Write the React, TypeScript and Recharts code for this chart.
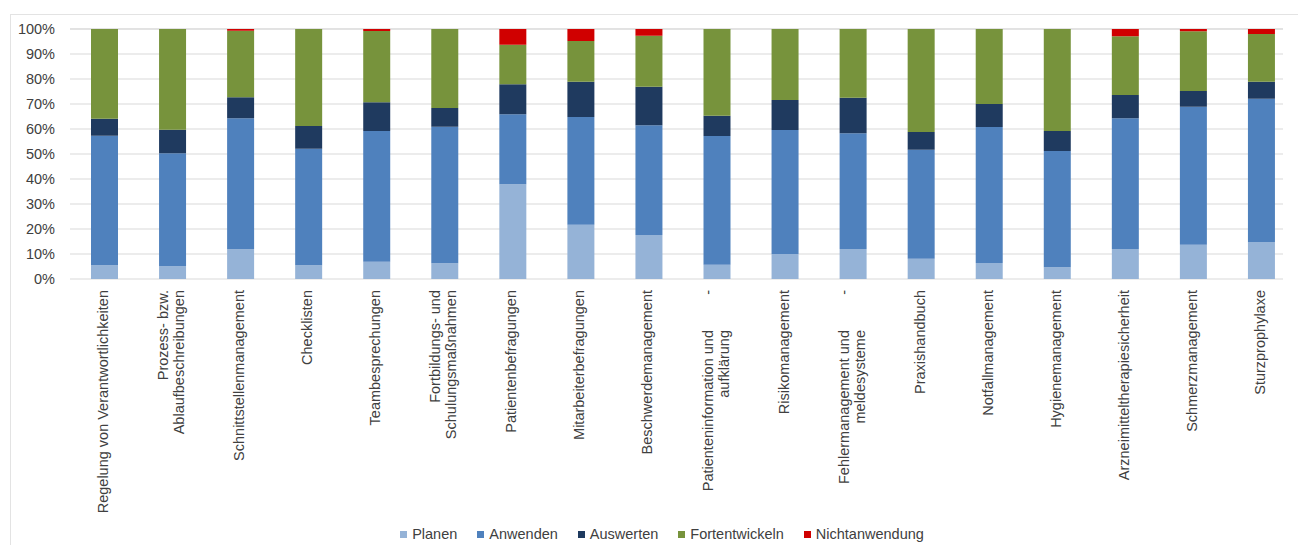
import { BarChart, Bar, XAxis, YAxis, CartesianGrid, Legend } from 'recharts';

const CATEGORIES = [
  'Regelung von Verantwortlichkeiten',
  'Prozess- bzw.\nAblaufbeschreibungen',
  'Schnittstellenmanagement',
  'Checklisten',
  'Teambesprechungen',
  'Fortbildungs- und\nSchulungsmaßnahmen',
  'Patientenbefragungen',
  'Mitarbeiterbefragungen',
  'Beschwerdemanagement',
  'Patienteninformation und -\naufklärung',
  'Risikomanagement',
  'Fehlermanagement und -\nmeldesysteme',
  'Praxishandbuch',
  'Notfallmanagement',
  'Hygienemanagement',
  'Arzneimitteltherapiesicherheit',
  'Schmerzmanagement',
  'Sturzprophylaxe',
];

const PLANEN = [5.5, 5.1, 11.9, 5.5, 6.9, 6.3, 37.9, 21.7, 17.6, 5.7, 10, 12, 8.1, 6.4, 4.7, 12, 13.7, 14.8];
const ANWENDEN = [51.8, 45.2, 52.4, 46.6, 52.3, 54.6, 28, 43.1, 43.9, 51.5, 49.6, 46.3, 43.6, 54.4, 46.5, 52.3, 55.2, 57.3];
const AUSWERTEN = [6.8, 9.4, 8.4, 9.1, 11.5, 7.5, 12, 14.1, 15.4, 8.1, 12, 14.2, 7.1, 9.2, 8, 9.3, 6.3, 6.8];
const FORTENTWICKELN = [35.9, 40.3, 26.6, 38.8, 28.5, 31.6, 15.8, 16.3, 20.4, 34.7, 28.4, 27.5, 41.2, 30, 40.8, 23.5, 23.9, 19.1];
const NICHTANWENDUNG = [0, 0, 0.7, 0, 0.8, 0, 6.3, 4.8, 2.7, 0, 0, 0, 0, 0, 0, 2.9, 0.9, 2];

const Y_TICKS = [0, 10, 20, 30, 40, 50, 60, 70, 80, 90, 100];

const SERIES = [
  { key: 'Planen', color: '#95b3d7', values: PLANEN },
  { key: 'Anwenden', color: '#4f81bd', values: ANWENDEN },
  { key: 'Auswerten', color: '#1f3a5f', values: AUSWERTEN },
  { key: 'Fortentwickeln', color: '#77933c', values: FORTENTWICKELN },
  { key: 'Nichtanwendung', color: '#d00000', values: NICHTANWENDUNG },
];

const FONT = '"Liberation Sans", Arial, sans-serif';
const FONT_SIZE = 14.5;
const TEXT = '#404040';

const data = CATEGORIES.map((name, i) => {
  const row: Record<string, string | number> = { name };
  SERIES.forEach((s) => {
    row[s.key] = s.values[i];
  });
  return row;
});

// rotated category labels, top-aligned just under the plot; a trailing " -" is drawn on its own at the top
function CategoryTick(props: any) {
  const { x, y, payload } = props;
  const raw = String(payload.value).split('\n');
  let dash = false;
  const lines = raw.map((l) => {
    if (l.endsWith(' -')) {
      dash = true;
      return l.slice(0, -2);
    }
    return l;
  });
  const n = lines.length;
  const top = dash ? y + 40 : y;
  const col = (i: number) => x + 4 + (i - (n - 1) / 2) * 16;
  return (
    <g>
      {lines.map((l, i) => (
        <text
          key={i}
          x={col(i)}
          y={top}
          transform={`rotate(-90 ${col(i)} ${top})`}
          textAnchor="end"
          fontSize={FONT_SIZE}
          fontFamily={FONT}
          fill={TEXT}
        >
          {l}
        </text>
      ))}
      {dash && (
        <text
          x={col(0)}
          y={y}
          transform={`rotate(-90 ${col(0)} ${y})`}
          textAnchor="end"
          fontSize={FONT_SIZE}
          fontFamily={FONT}
          fill={TEXT}
        >
          -
        </text>
      )}
    </g>
  );
}

function LegendContent() {
  return (
    <div
      style={{
        display: 'flex',
        justifyContent: 'center',
        alignItems: 'center',
        height: 22,
        paddingLeft: 26,
        fontFamily: FONT,
        fontSize: FONT_SIZE,
        color: TEXT,
      }}
    >
      {SERIES.map((s) => (
        <div key={s.key} style={{ display: 'flex', alignItems: 'center', margin: '0 10px' }}>
          <span style={{ width: 7, height: 7, background: s.color, marginRight: 5, display: 'inline-block' }} />
          <span>{s.key}</span>
        </div>
      ))}
    </div>
  );
}

export default function App() {
  return (
    <div style={{ position: 'absolute', left: 0, top: 0, width: 1298, height: 545, background: '#fff' }}>
      <div
        style={{
          position: 'absolute',
          left: 10,
          top: 14,
          right: 0,
          bottom: 0,
          borderLeft: '1px solid #e3e3e3',
          borderTop: '1px solid #e3e3e3',
        }}
      />
      <BarChart
        width={1298}
        height={545}
        data={data}
        margin={{ top: 29, right: 15, left: 0, bottom: 0 }}
        barSize={27}
        style={{ position: 'absolute', left: 0, top: 0 }}
      >
        <CartesianGrid vertical={false} stroke="#d9d9d9" />
        <XAxis
          dataKey="name"
          interval={0}
          tickLine={false}
          axisLine={false}
          height={244}
          tickMargin={5}
          padding={{ left: 0, right: -12 }}
          tick={<CategoryTick />}
        />
        <YAxis
          width={70}
          domain={[0, 100]}
          ticks={Y_TICKS}
          tickFormatter={(v) => `${v}%`}
          tickLine={false}
          axisLine={false}
          tickMargin={9}
          tick={{ fontSize: FONT_SIZE, fill: TEXT, fontFamily: FONT }}
        />
        <Legend verticalAlign="bottom" height={22} wrapperStyle={{ left: 0, width: 1298 }} content={<LegendContent />} />
        {SERIES.map((s) => (
          <Bar key={s.key} dataKey={s.key} stackId="a" fill={s.color} isAnimationActive={false} />
        ))}
      </BarChart>
    </div>
  );
}
